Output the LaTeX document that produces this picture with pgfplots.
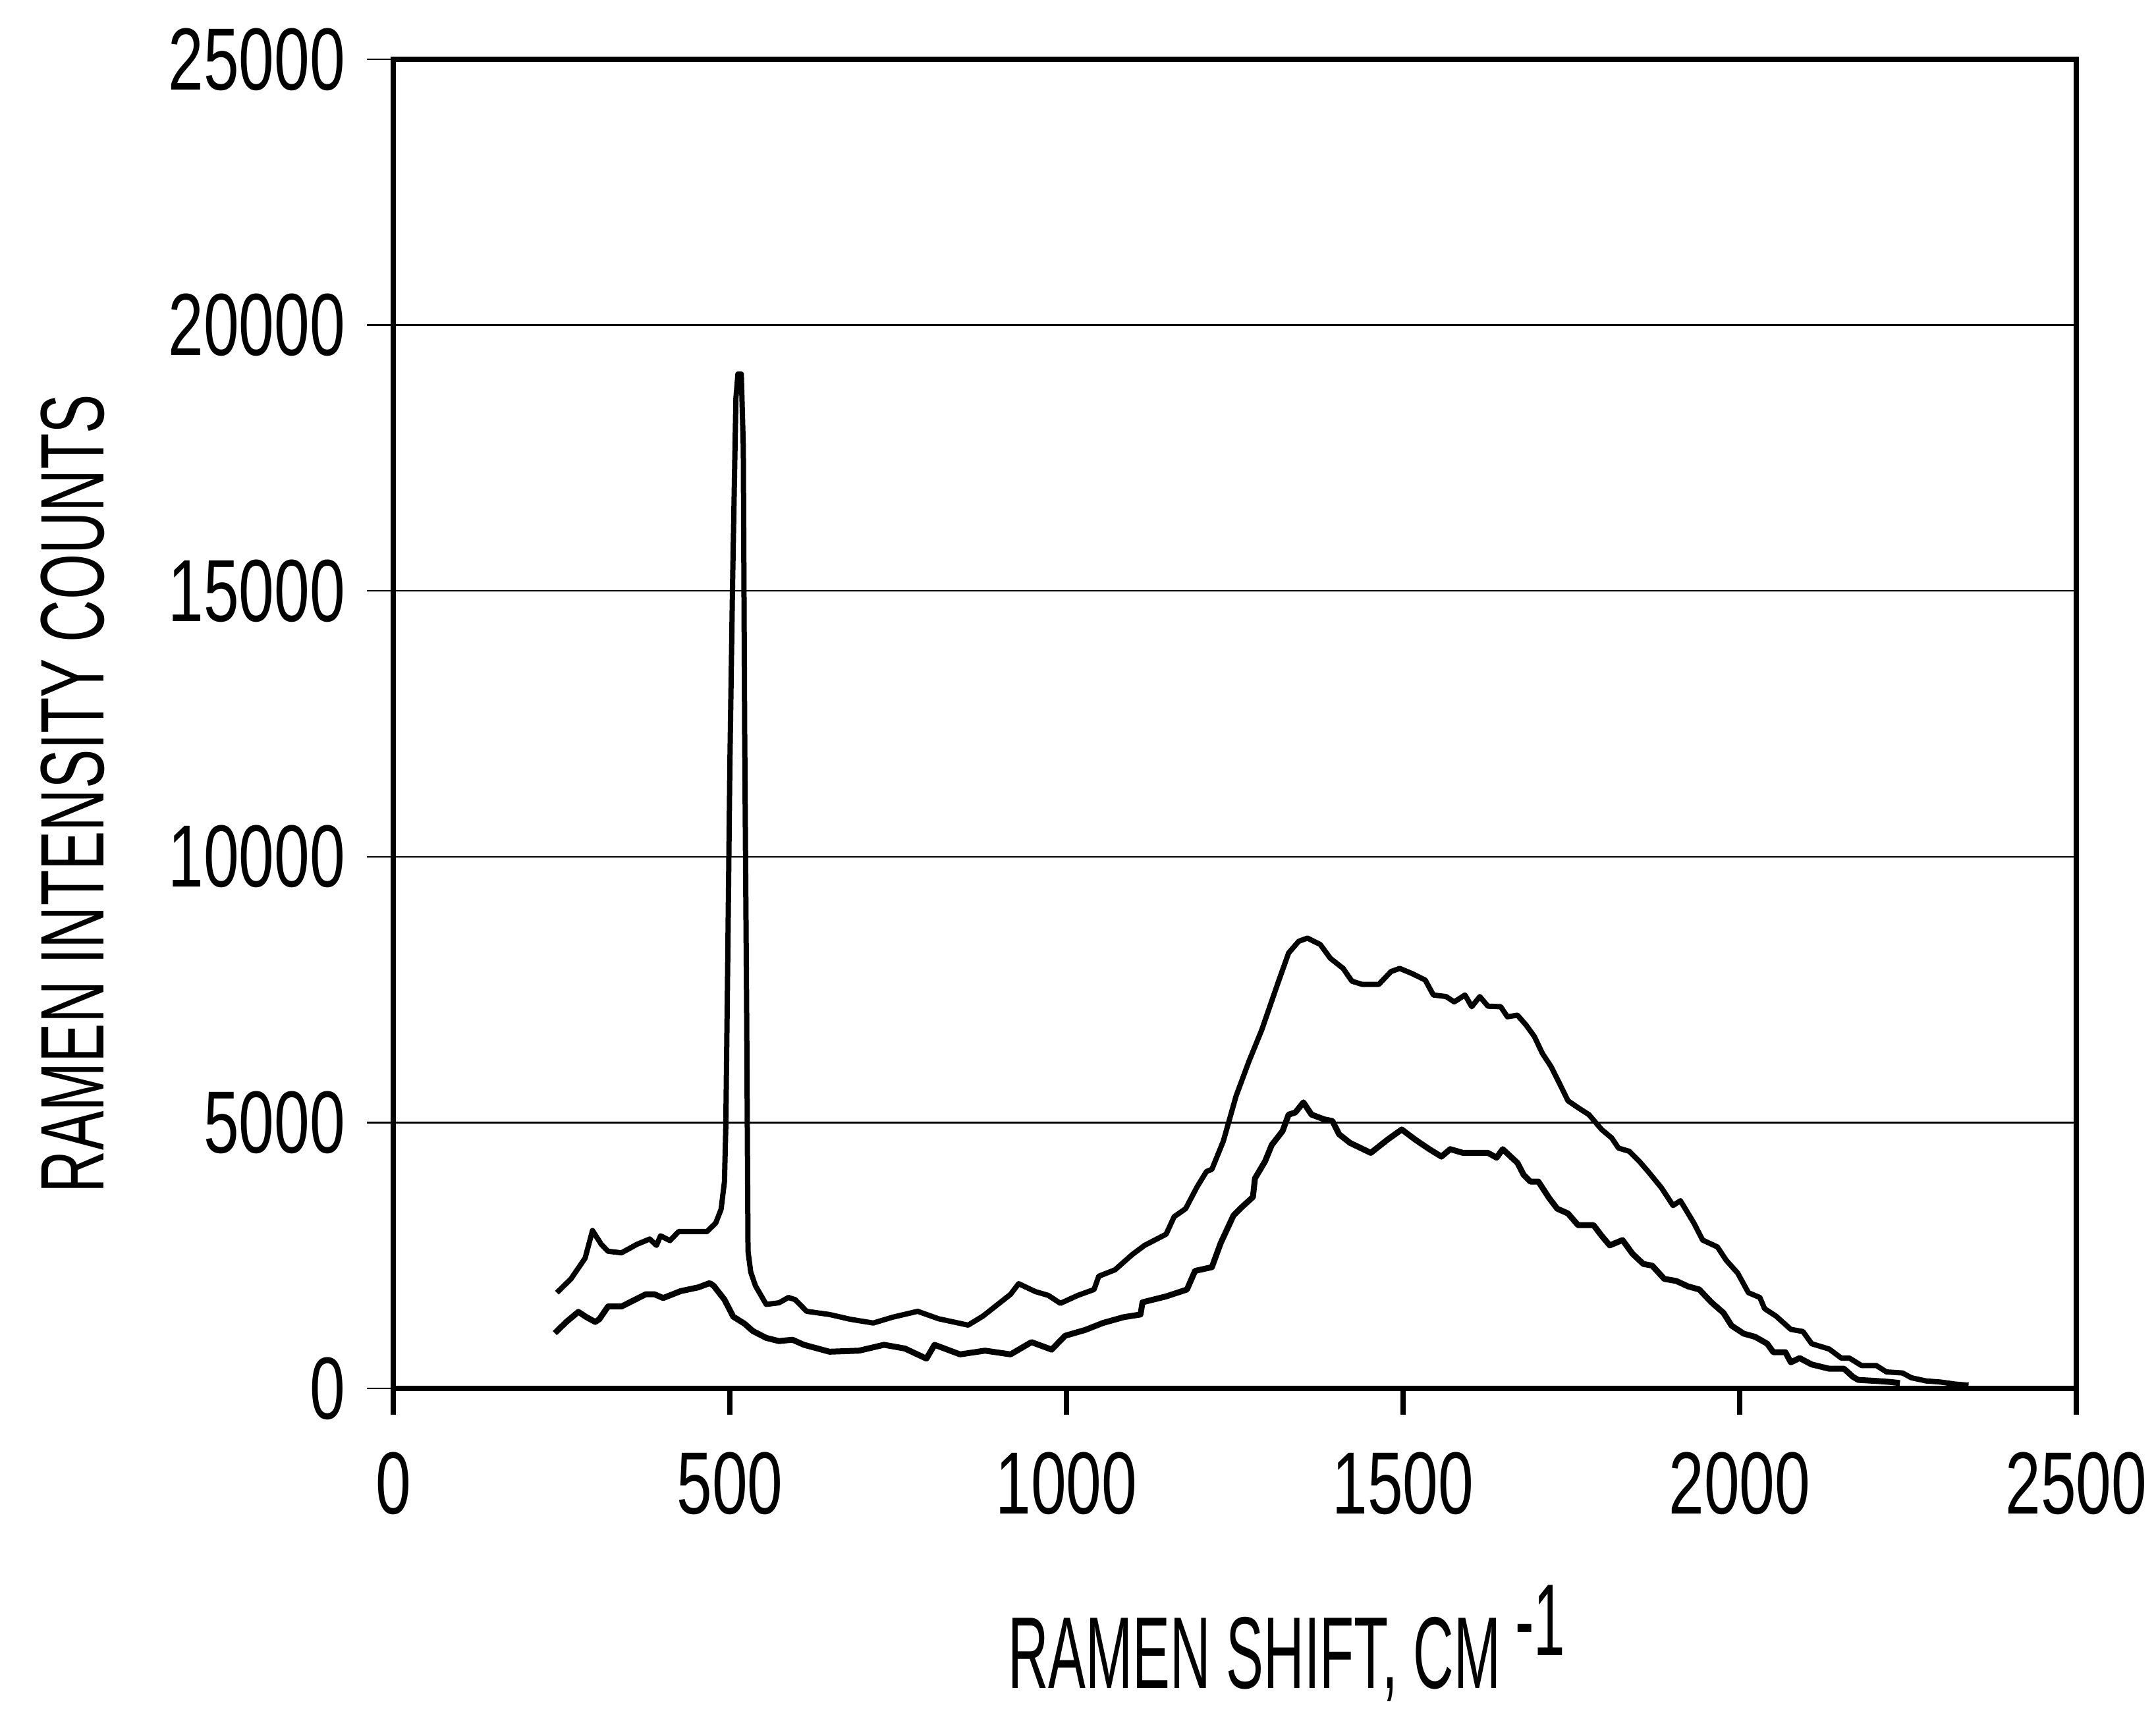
\documentclass[border=0pt]{standalone}
\usepackage{fontspec}
\setmainfont{Liberation Sans}
\newfontfamily\tickfont[FakeStretch=0.72]{Liberation Sans}
\newfontfamily\ylabfont[FakeStretch=0.65]{Liberation Sans}
\newfontfamily\xlabfont[FakeStretch=0.55]{Liberation Sans}
\usepackage{pgfplots}
\pgfplotsset{compat=1.18}

\begin{document}
\begin{tikzpicture}
\begin{axis}[
  name=ax,
  scale only axis, width=255.5pt, height=201.8pt,
  xmin=0, xmax=2500, ymin=0, ymax=25000,
  xtick={0,500,1000,1500,2000,2500}, ytick={0,5000,10000,15000,20000,25000},
  scaled ticks=false,
  /pgf/number format/assume math mode=true,
  /pgf/number format/set thousands separator={},
  ymajorgrids, major grid style={black, line width=0.25pt},
  tick align=outside, xtick pos=bottom, ytick pos=left,
  major tick length=4pt,
  axis line style={line width=0.8pt},
  xtick style={line width=0.8pt, black},
  ytick style={line width=0.25pt, black},
  tick label style={font=\tickfont\fontsize{13.4}{14}\selectfont},
  yticklabel style={anchor=east, inner sep=0pt, xshift=-3.1pt},
  xticklabel style={anchor=north, inner sep=0pt, yshift=-5.5pt},
  xlabel={\xlabfont\fontsize{15.5}{16}\selectfont RAMEN SHIFT, CM\hspace{2.2pt}\raisebox{5pt}{-1}},
  xlabel style={at={(axis description cs:0.3645,-0.2255)}, anchor=base west, inner sep=0pt},
  ylabel={\ylabfont\fontsize{13.7}{14}\selectfont RAMEN INTENSITY COUNTS},
  ylabel style={at={(axis description cs:-0.1722,0.4475)}, anchor=base, inner sep=0pt},
]
% upper trace
\addplot[black, no markers, line width=0.8pt, line join=round] coordinates {
(243,1800) (264,2060) (285,2450) (296,2970) (309,2710) (319,2580) (339,2550) (362,2710)
(381,2810) (391,2690) (397,2870) (411,2780) (424,2950) (446,2950) (466,2950) (479,3110)
(487,3370) (492,3890) (494,4930) (497,8190) (500,11700) (504,15100) (509,18620) (512,19080)
(517,19080) (520,17700) (522,12360) (525,7010) (527,2580) (531,2190) (538,1930) (554,1580)
(573,1610) (587,1710) (597,1670) (614,1450) (648,1390) (679,1300) (713,1230) (742,1340)
(779,1450) (810,1310) (854,1190) (876,1360) (891,1510) (917,1770) (929,1970) (954,1820)
(973,1750) (991,1600) (1017,1750) (1041,1860) (1048,2110) (1072,2230) (1098,2520) (1116,2690)
(1148,2900) (1160,3230) (1177,3380) (1194,3790) (1208,4080) (1216,4120) (1233,4650) (1252,5500)
(1271,6150) (1290,6740) (1302,7180) (1314,7620) (1330,8190) (1345,8410) (1358,8470) (1377,8350)
(1392,8090) (1411,7900) (1424,7660) (1439,7600) (1464,7600) (1482,7840) (1495,7900) (1514,7800)
(1533,7680) (1545,7400) (1564,7370) (1576,7270) (1592,7400) (1602,7180) (1614,7370) (1626,7190)
(1645,7180) (1655,6990) (1670,7020) (1683,6830) (1695,6620) (1707,6300) (1720,6050) (1733,5720)
(1745,5410) (1760,5280) (1776,5150) (1795,4870) (1810,4710) (1820,4520) (1836,4460) (1851,4270)
(1864,4080) (1884,3770) (1901,3440) (1912,3530) (1932,3110) (1945,2790) (1967,2660) (1980,2410)
(1997,2170) (2013,1800) (2030,1710) (2037,1500) (2054,1360) (2076,1110) (2094,1070) (2107,840)
(2133,740) (2151,570) (2163,570) (2181,430) (2203,430) (2218,310) (2242,290) (2255,200)
(2277,140) (2298,120) (2321,80) (2340,60)
};
% lower trace
\addplot[black, no markers, line width=0.9pt, line join=round] coordinates {
(240,1040) (257,1250) (275,1440) (287,1340) (300,1250) (306,1300) (319,1540) (339,1540)
(375,1770) (388,1770) (401,1700) (427,1830) (453,1900) (470,1980) (476,1930) (492,1670)
(505,1350) (522,1215) (534,1080) (554,950) (573,890) (593,915) (610,820) (648,690)
(692,710) (729,820) (760,750) (792,560) (804,820) (842,640) (879,710) (917,640)
(948,870) (978,730) (998,990) (1028,1100) (1054,1230) (1085,1340) (1110,1390) (1113,1620)
(1148,1730) (1179,1860) (1191,2210) (1216,2280) (1229,2730) (1248,3250) (1258,3380) (1277,3600)
(1280,3950) (1295,4270) (1305,4580) (1321,4840) (1330,5150) (1340,5190) (1352,5380) (1364,5150)
(1383,5060) (1395,5030) (1405,4780) (1421,4620) (1452,4430) (1477,4680) (1498,4870) (1518,4680)
(1539,4500) (1557,4360) (1570,4500) (1589,4430) (1626,4430) (1639,4340) (1648,4500) (1670,4240)
(1679,4020) (1689,3890) (1701,3890) (1717,3580) (1729,3380) (1745,3290) (1760,3070) (1783,3070)
(1795,2870) (1807,2690) (1826,2790) (1841,2530) (1857,2340) (1870,2310) (1888,2060) (1906,2020)
(1923,1920) (1940,1860) (1958,1620) (1976,1420) (1988,1180) (2006,1030) (2023,970) (2041,840)
(2050,680) (2068,680) (2076,490) (2089,570) (2107,450) (2133,370) (2155,370) (2168,220)
(2176,160) (2203,140) (2225,120) (2238,100)
};
\end{axis}
\pgfresetboundingbox
\path[use as bounding box] ([shift={(-59.7pt,-50.1pt)}]ax.south west) rectangle ([shift={(267.6pt,210.8pt)}]ax.south west);
\end{tikzpicture}
\end{document}
